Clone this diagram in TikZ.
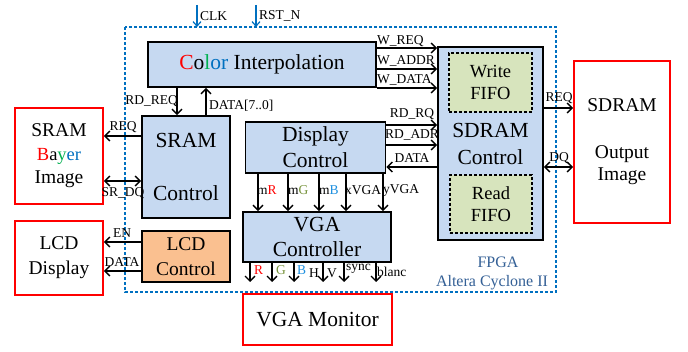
\documentclass[tikz,border=0pt]{standalone}
\usepackage{fontspec}
\setmainfont{Liberation Serif}
\usetikzlibrary{arrows.meta}

\definecolor{blockblue}{RGB}{198,217,241}
\definecolor{fifogreen}{RGB}{215,228,189}
\definecolor{lcdorange}{RGB}{250,192,144}
\definecolor{fpgablue}{RGB}{0,112,192}
\definecolor{fpgatext}{RGB}{52,96,150}
\definecolor{cred}{RGB}{255,0,0}
\definecolor{cgreen}{RGB}{0,176,80}
\definecolor{colive}{RGB}{119,147,60}
\definecolor{cblue}{RGB}{0,112,192}
\definecolor{lblue}{RGB}{30,144,224}

\tikzset{
  blk/.style={draw=black, line width=1.6pt, fill=blockblue, inner sep=0pt, align=center},
  ext/.style={draw=cred, line width=1.6pt, fill=white, inner sep=0pt, align=center},
  fifo/.style={draw=black, dashed, dash pattern=on 3pt off 2pt, line width=1.4pt, fill=fifogreen, inner sep=0pt, align=center},
  lcdblk/.style={blk, fill=lcdorange},
  sig/.style={line width=1.4pt, -{Straight Barb[length=5pt,width=10pt]}},
  bisig/.style={line width=1.4pt, {Straight Barb[length=5pt,width=10pt]}-{Straight Barb[length=5pt,width=10pt]}},
  clk/.style={line width=1.2pt, draw=fpgablue, -{Straight Barb[length=4.5pt,width=8pt]}},
  lbl/.style={font=\fontsize{13.5}{14}\selectfont, inner sep=0pt},
  bigA/.style={font=\fontsize{21.5}{26}\selectfont},
  bigB/.style={font=\fontsize{19.5}{25}\selectfont},
  bigC/.style={font=\fontsize{18.5}{22.5}\selectfont},
}

\begin{document}
\begin{tikzpicture}[x=1pt, y=-1pt]
  \useasboundingbox[fill=white] (0,0) rectangle (688,352);

  % FPGA boundary
  \draw[fpgablue, line width=1.3pt, dash pattern=on 3pt off 2pt] (125,27) rectangle (556,292);
  \node[fpgatext, font=\fontsize{16}{19}\selectfont, align=center] (fpga) at (492,273)
    {\hspace*{12pt}FPGA\\Altera Cyclone II};

  % clock and reset inputs
  \coordinate (clkin) at (197,5);
  \coordinate (clkout) at (197,27);
  \coordinate (rstin) at (256,5);
  \coordinate (rstout) at (256,27);
  \draw[clk] (clkin) -- (clkout);
  \draw[clk] (rstin) -- (rstout);
  \node[lbl, anchor=west] (clklbl) at (200,16) {CLK};
  \node[lbl, anchor=west] (rstlbl) at (259,16) {RST\_N};

  % FPGA blocks
  \node[blk, bigA, minimum width=228pt, minimum height=45pt] (ci) at (262,64.5)
    {\textcolor{cred}{C}o\textcolor{cgreen}{l}\textcolor{cblue}{or} Interpolation};
  \node[blk, bigA, minimum width=88pt, minimum height=102pt] (sramc) at (186,167)
    {\raisebox{-3pt}{SRAM}\\[27pt]\raisebox{-3pt}{Control}};
  \node[blk, bigA, minimum width=140pt, minimum height=51pt] (disp) at (315.5,147.5)
    {Display\\Control};
  \node[blk, bigA, minimum width=148pt, minimum height=50pt] (vga) at (317,237)
    {VGA\\[-1pt]Controller};
  \node[lcdblk, bigB, minimum width=88pt, minimum height=51pt] (lcdc) at (186,256.5)
    {LCD\\Control};
  \node[blk, bigA, minimum width=105pt, minimum height=193pt] (sdc) at (490.5,143.5)
    {SDRAM\\[1pt]Control};
  \node[fifo, bigC, minimum width=83pt, minimum height=59pt] (wf) at (490.5,82.5)
    {Write\\FIFO};
  \node[fifo, bigC, minimum width=82pt, minimum height=58pt] (rf) at (491,204)
    {Read\\FIFO};

  % external devices
  \node[ext, bigB, minimum width=88pt, minimum height=96pt] (sram) at (59,156)
    {SRAM\\[-1pt]{\fontsize{18.5}{22}\selectfont\textcolor{cred}{B}a\textcolor{cgreen}{y}\textcolor{cblue}{er}}\\[-2pt]Image};
  \node[ext, bigB, minimum width=88pt, minimum height=74pt] (lcd) at (59,258)
    {LCD\\Display};
  \node[ext, bigB, minimum width=96pt, minimum height=162pt] (sdram) at (622,142)
    {SDRAM\\[22pt]Output\\[-3pt]Image};
  \node[ext, bigA, minimum width=149pt, minimum height=51pt] (mon) at (317.5,319.5)
    {VGA Monitor};

  % color interpolation -> SDRAM control (write side)
  \draw[sig] (ci.east |- 0,48) -- (sdc.west |- 0,48);
  \draw[sig] (ci.east |- 0,69) -- (sdc.west |- 0,69);
  \draw[sig] (ci.east |- 0,88) -- (sdc.west |- 0,88);
  \node[lbl, anchor=west] (wreq) at (377,41) {W\_REQ};
  \node[lbl, anchor=west] (waddr) at (377,61) {W\_ADDR};
  \node[lbl, anchor=west] (wdata) at (377,80) {W\_DATA};

  % display control <-> SDRAM control (read side)
  \draw[sig] (disp.east |- 0,125) -- (sdc.west |- 0,125);
  \draw[sig] (disp.east |- 0,145) -- (sdc.west |- 0,145);
  \draw[sig] (sdc.west |- 0,167) -- (disp.east |- 0,167);
  \node[lbl] (rdrq) at (412,114) {RD\_RQ};
  \node[lbl] (rdadr) at (412,135) {RD\_ADR};
  \node[lbl] (rddata) at (412,158) {DATA};

  % color interpolation <-> SRAM control
  \draw[sig] (ci.south -| 177,0) -- (sramc.north -| 177,0);
  \draw[sig] (sramc.north -| 206,0) -- (ci.south -| 206,0);
  \node[lbl, anchor=east] (rdreq) at (178,101) {RD\_REQ};
  \node[lbl, anchor=west] (data70) at (209,106) {DATA[7..0]};

  % SRAM control <-> SRAM
  \draw[sig] (sramc.west |- 0,136) -- (sram.east |- 0,136);
  \draw[bisig] (sram.east |- 0,181) -- (sramc.west |- 0,181);
  \node[lbl] (sreq) at (123,127) {REQ};
  \node[lbl] (srdq) at (123,193) {SR\_DQ};

  % LCD control -> LCD
  \draw[sig] (lcdc.west |- 0,242) -- (lcd.east |- 0,242);
  \draw[sig] (lcdc.west |- 0,271) -- (lcd.east |- 0,271);
  \node[lbl] (en) at (122,233) {EN};
  \node[lbl] (ldata) at (122,262) {DATA};

  % SDRAM control <-> SDRAM
  \draw[sig] (sdc.east |- 0,108) -- (sdram.west |- 0,108);
  \draw[bisig] (sdc.east |- 0,167) -- (sdram.west |- 0,167);
  \node[lbl] (dreq) at (559,98) {REQ};
  \node[lbl] (ddq) at (559,158) {DQ};

  % display control -> VGA controller
  \foreach \x in {258,288,319,346,383}
    \draw[sig] (disp.south -| \x,0) -- (vga.north -| \x,0);
  \node[lbl, anchor=west] (mr) at (257,190) {m\textcolor{cred}{R}};
  \node[lbl, anchor=west] (mg) at (288,190) {m\textcolor{colive}{G}};
  \node[lbl, anchor=west] (mb) at (319,190) {m\textcolor{lblue}{B}};
  \node[lbl, anchor=west] (xv) at (345,190) {xVGA};
  \node[lbl, anchor=west] (yv) at (383,190) {yVGA};

  % VGA controller outputs
  \foreach \x/\nm in {250/r,272/g,294/b,323/h,344/s,376/k}
    \coordinate (out\nm) at (\x,282);
  \foreach \x/\nm in {250/r,272/g,294/b,323/h,344/s,376/k}
    \draw[sig] (vga.south -| \x,0) -- (out\nm);
  \node[lbl, anchor=west] (lr) at (254,270) {\textcolor{cred}{R}};
  \node[lbl, anchor=west] (lg) at (276,270) {\textcolor{colive}{G}};
  \node[lbl, anchor=west] (lb) at (297,270) {\textcolor{lblue}{B}};
  \node[lbl, anchor=west] (lh) at (309,273) {H};
  \node[lbl, anchor=west] (lv) at (327,273) {V};
  \node[lbl, anchor=west] (ls) at (346,269) {sync};
  \node[lbl, anchor=west] (lbc) at (377,272) {blanc};
\end{tikzpicture}
\end{document}
